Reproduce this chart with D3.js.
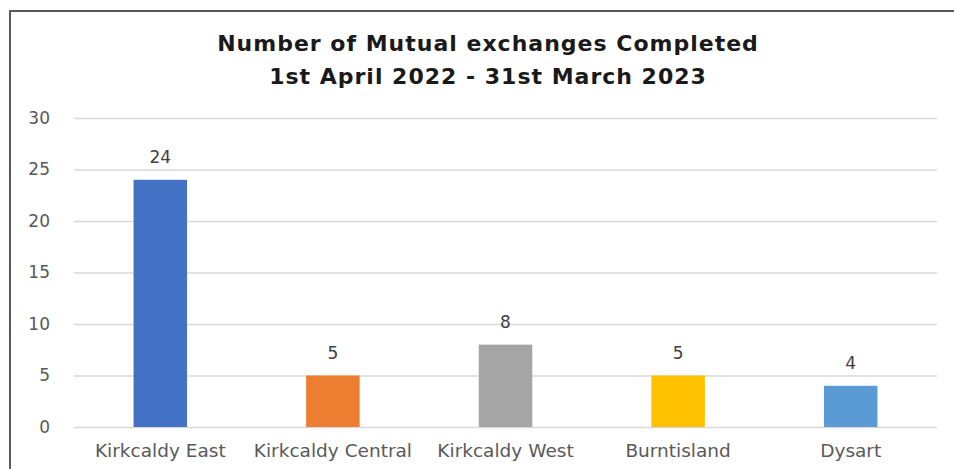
<!DOCTYPE html>
<html>
<head>
<meta charset="utf-8">
<script src="https://cdn.jsdelivr.net/npm/d3@7"></script>
<style>
  body { margin: 0; background: #fff; }
  svg { display: block; }
</style>
</head>
<body>
<svg></svg>
<script>
var categories = ["Kirkcaldy East", "Kirkcaldy Central", "Kirkcaldy West", "Burntisland", "Dysart"];
var values = [24, 5, 8, 5, 4];
var colors = ["#4472C4", "#ED7D31", "#A5A5A5", "#FFC000", "#5B9BD5"];
var yTicks = [0, 5, 10, 15, 20, 25, 30];
var titleLines = ["Number of Mutual exchanges Completed", "1st April 2022 - 31st March 2023"];

var svgWidth = 954, svgHeight = 469;
var margin = {top: 118, right: 17, bottom: 42, left: 74};
var width = svgWidth - margin.left - margin.right;
var height = svgHeight - margin.top - margin.bottom;
var font = 'DejaVu Sans, sans-serif';

var svg = d3.select('svg').attr('width', svgWidth).attr('height', svgHeight);

// chart border (cropped at right/bottom)
svg.append('rect')
    .attr('x', 10).attr('y', 11)
    .attr('width', 960).attr('height', 480)
    .attr('fill', 'none')
    .attr('stroke', '#595959')
    .attr('stroke-width', 2);

// title
svg.append('g').selectAll('text')
    .data(titleLines)
    .enter()
    .append('text')
    .attr('x', 488)
    .attr('y', function (d, i) { return 51 + i * 33; })
    .attr('text-anchor', 'middle')
    .attr('font-family', font)
    .attr('font-weight', 'bold')
    .attr('font-size', 22)
    .attr('letter-spacing', 1)
    .attr('fill', '#1a1a1a')
    .text(function (d) { return d; });

var g = svg.append('g').attr('transform', 'translate(' + margin.left + ',' + margin.top + ')');

var xScale = d3.scaleBand().domain(categories).range([0, width]).paddingInner(0.69).paddingOuter(0.345);
var yScale = d3.scaleLinear().domain([0, 30]).range([height, 0]);

// gridlines + y labels
var y_axis = d3.axisLeft(yScale).tickValues(yTicks).tickSize(-width).tickPadding(24);
var yg = g.append('g').call(y_axis);
yg.select('.domain').remove();
yg.selectAll('.tick line').attr('stroke', '#d9d9d9').attr('stroke-width', 1.5);
yg.selectAll('.tick text')
    .attr('fill', '#595959')
    .attr('font-family', font)
    .attr('font-size', 17);

// x axis labels
var x_axis = d3.axisBottom(xScale).tickSize(0).tickPadding(17);
var xg = g.append('g').attr('transform', 'translate(0,' + height + ')').call(x_axis);
xg.select('.domain').remove();
xg.selectAll('.tick text')
    .attr('fill', '#595959')
    .attr('font-family', font)
    .attr('font-size', 18.5);

// bars
g.selectAll('.bar')
    .data(values)
    .enter()
    .append('rect')
    .attr('class', 'bar')
    .attr('x', function (d, i) { return xScale(categories[i]); })
    .attr('y', function (d) { return yScale(d); })
    .attr('width', xScale.bandwidth())
    .attr('height', function (d) { return height - yScale(d); })
    .attr('fill', function (d, i) { return colors[i]; });

// value labels
g.selectAll('.label')
    .data(values)
    .enter()
    .append('text')
    .attr('class', 'label')
    .attr('x', function (d, i) { return xScale(categories[i]) + xScale.bandwidth() / 2; })
    .attr('y', function (d) { return yScale(d) - 17; })
    .attr('text-anchor', 'middle')
    .attr('font-family', font)
    .attr('font-size', 17)
    .attr('fill', '#404040')
    .text(function (d) { return d; });
</script>
</body>
</html>
